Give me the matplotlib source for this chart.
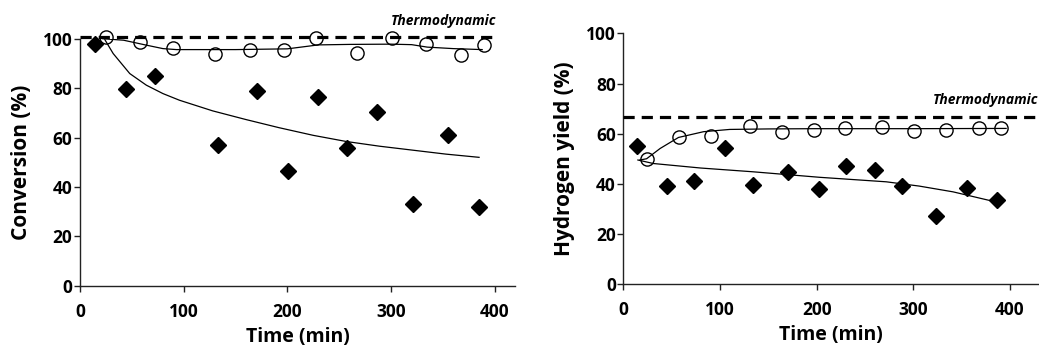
import matplotlib
matplotlib.use("Agg")
import matplotlib.pyplot as plt

plt.rcParams['font.family'] = ['Open Sans', 'DejaVu Sans']
plt.rcParams['font.weight'] = 'bold'

# ---- left panel: conversion ----
conv_t_diamond = [14, 44, 72, 133, 171, 201, 230, 258, 287, 321, 355, 385]
conv_diamond = [98.0, 79.8, 85.0, 56.9, 78.8, 46.5, 76.5, 55.7, 70.5, 33.3, 61.0, 32.1]

conv_t_circle = [25, 58, 90, 130, 164, 197, 228, 267, 301, 334, 368, 390]
conv_circle = [100.5, 98.7, 96.2, 93.9, 95.6, 95.6, 100.3, 94.2, 100.3, 97.8, 93.3, 97.3]

conv_fit_upper_t = [22, 42, 64, 80, 93, 150, 200, 230, 260, 300, 320, 335, 360, 388]
conv_fit_upper = [100, 99.4, 97.4, 96.0, 95.6, 95.6, 95.9, 97.5, 97.7, 97.8, 97.6, 96.6, 96.0, 95.6]

conv_fit_lower_t = [24, 32, 48, 64, 80, 96, 128, 160, 192, 225, 257, 289, 321, 353, 385]
conv_fit_lower = [99.6, 94.0, 85.9, 81.2, 77.8, 75.1, 70.8, 67.3, 64.0, 60.9, 58.4, 56.5, 54.9, 53.3, 52.0]

conv_thermo = 100.7

# ---- right panel: hydrogen yield ----
h2_t_diamond = [14, 45, 73, 105, 134, 170, 202, 230, 260, 288, 323, 356, 387]
h2_diamond = [55.1, 39.1, 41.1, 54.4, 39.4, 44.8, 37.9, 47.1, 45.5, 39.1, 27.1, 38.2, 33.5]

h2_t_circle = [24, 58, 91, 131, 164, 197, 229, 268, 301, 334, 368, 391]
h2_circle = [50.0, 58.8, 58.9, 63.0, 60.5, 61.6, 62.4, 62.8, 61.0, 61.6, 62.2, 62.2]

h2_fit_upper_t = [17, 24, 38, 57, 83, 110, 150, 200, 300, 396]
h2_fit_upper = [49.5, 50.0, 54.1, 58.5, 60.8, 61.7, 61.9, 62.0, 62.0, 62.1]

h2_fit_lower_t = [15, 31, 80, 134, 203, 272, 306, 341, 385]
h2_fit_lower = [49.5, 48.1, 46.3, 44.8, 42.6, 40.8, 39.1, 36.8, 32.8]

h2_thermo = 66.8

xticks = [0, 100, 200, 300, 400]
yticks = [0, 20, 40, 60, 80, 100]

fig = plt.figure(figsize=(10.39, 3.52), dpi=100)
ax1 = fig.add_axes([0.077, 0.188, 0.419, 0.702])
ax2 = fig.add_axes([0.600, 0.193, 0.400, 0.712])


def style_axis(ax, xmax, ylabel):
    ax.set_xlim(0, xmax)
    ax.set_ylim(0, 100)
    ax.set_xticks(xticks)
    ax.set_yticks(yticks)
    for side in ['top', 'right']:
        ax.spines[side].set_visible(False)
    for side in ['left', 'bottom']:
        ax.spines[side].set_color('#222222')
        ax.spines[side].set_linewidth(1.0)
    ax.tick_params(direction='out', length=4.5, width=1, color='#222222',
                   labelsize=12.5, pad=1)
    ax.tick_params(axis='x', pad=8)
    ax.set_xlabel('Time (min)', fontsize=14, fontweight='bold', labelpad=4)
    ax.set_ylabel(ylabel, fontsize=15, fontweight='bold', labelpad=8)


def draw_panel(ax, td, d, tc, c, tu, u, tl, l, thermo, thermo_end):
    ax.plot(tu, u, color='black', lw=0.9, zorder=2)
    ax.plot(tl, l, color='black', lw=0.9, zorder=2)
    ax.plot([0, thermo_end], [thermo, thermo], color='black', lw=2.3,
            ls=(0, (3.5, 2.2)), clip_on=False, zorder=3)
    ax.plot(td, d, ls='none', marker='D', ms=8, color='black', clip_on=False, zorder=4)
    ax.plot(tc, c, ls='none', marker='o', ms=9.5, mfc='none', mec='black',
            mew=1.0, clip_on=False, zorder=4)


style_axis(ax1, 420, 'Conversion (%)')
draw_panel(ax1, conv_t_diamond, conv_diamond, conv_t_circle, conv_circle,
           conv_fit_upper_t, conv_fit_upper, conv_fit_lower_t, conv_fit_lower,
           conv_thermo, 402)
ax1.text(402, 104.5, 'Thermodynamic', fontsize=10, fontstyle='italic',
         fontweight='bold', ha='right', va='bottom')

style_axis(ax2, 430, 'Hydrogen yield (%)')
draw_panel(ax2, h2_t_diamond, h2_diamond, h2_t_circle, h2_circle,
           h2_fit_upper_t, h2_fit_upper, h2_fit_lower_t, h2_fit_lower,
           h2_thermo, 430)
ax2.text(429, 70.5, 'Thermodynamic', fontsize=10, fontstyle='italic',
         fontweight='bold', ha='right', va='bottom')

fig.savefig('out.png', dpi=100)
